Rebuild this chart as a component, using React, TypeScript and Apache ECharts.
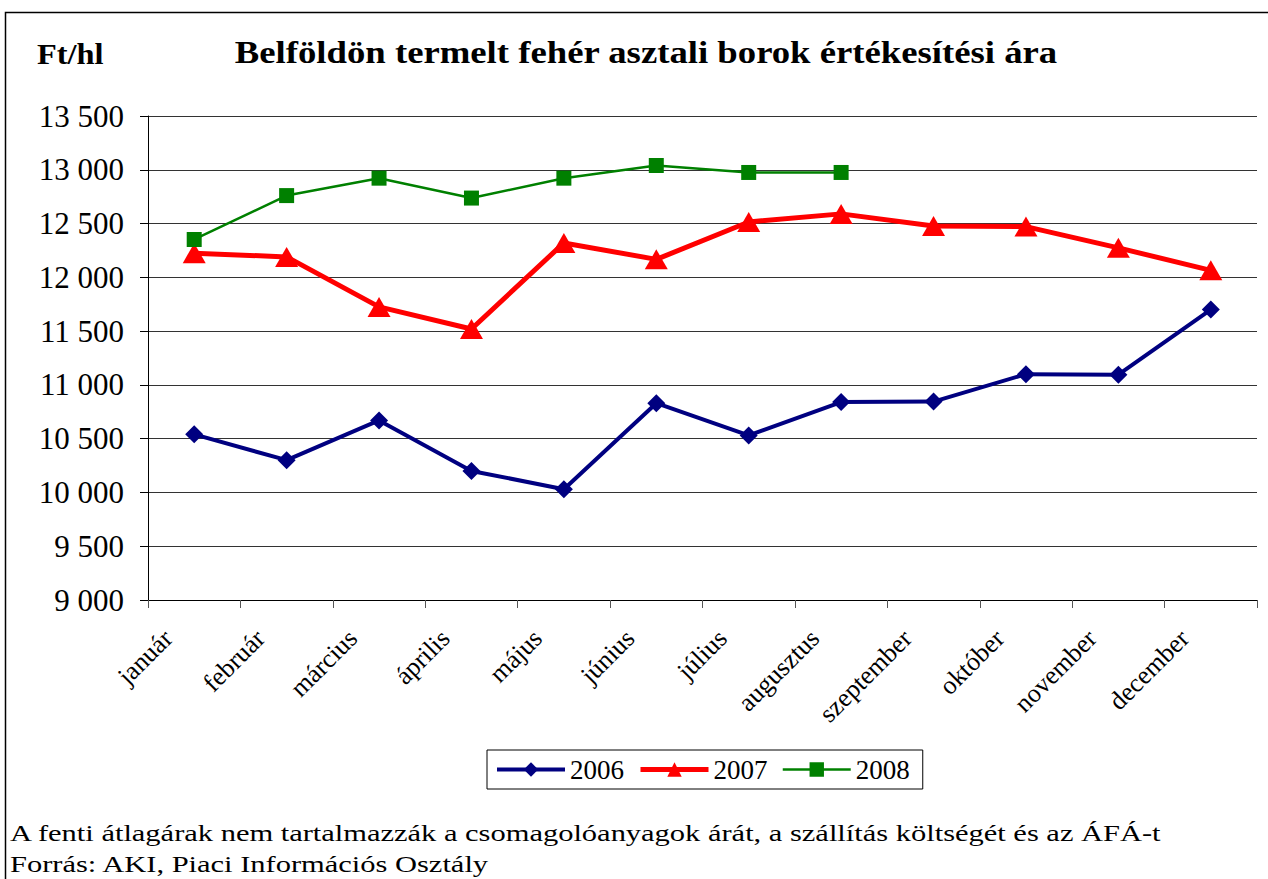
import React, { useEffect, useRef } from "react";
import * as echarts from "echarts";

const months = [
  "január", "február", "március", "április", "május", "június",
  "július", "augusztus", "szeptember", "október", "november", "december",
];
const values2006 = [10540, 10300, 10670, 10200, 10030, 10830, 10530, 10840, 10845, 11100, 11095, 11700];
const values2007 = [12225, 12190, 11725, 11520, 12320, 12167, 12515, 12590, 12478, 12472, 12274, 12065];
const values2008 = [12352, 12760, 12922, 12737, 12922, 13040, 12975, 12975];
const yTicks = { min: 9000, max: 13500, interval: 500 };

const titleText = "Belföldön termelt fehér asztali borok értékesítési ára";
const unitText = "Ft/hl";
const note1 = "A fenti átlagárak nem tartalmazzák a csomagolóanyagok árát, a szállítás költségét és az ÁFÁ-t";
const note2 = "Forrás: AKI, Piaci Információs Osztály";

const SERIF = "'Liberation Serif', 'Times New Roman', serif";

function fmt(v: number): string {
  const s = String(Math.round(v));
  return s.replace(/\B(?=(\d{3})+(?!\d))/g, " ");
}

export default function App() {
  const ref = useRef<HTMLDivElement>(null);
  useEffect(() => {
    if (!ref.current) return;
    const chart = echarts.init(ref.current, null, { renderer: "svg" });
    chart.setOption({
      animation: false,
      backgroundColor: "#fff",
      textStyle: { fontFamily: SERIF },
      grid: { left: 148, top: 116, right: 11, bottom: 279, containLabel: false },
      legend: {
        left: 487,
        top: 750,
        orient: "horizontal",
        borderColor: "#000",
        borderWidth: 1,
        padding: [6, 13, 6, 8],
        itemGap: 14,
        itemWidth: 68,
        itemHeight: 18,
        textStyle: { fontFamily: SERIF, fontSize: 27, color: "#000" },
        data: [
          { name: "2006", lineStyle: { width: 4, color: "#000080" } },
          { name: "2007", lineStyle: { width: 5, color: "#FF0000" } },
          { name: "2008", lineStyle: { width: 2.5, color: "#008000" } },
        ],
      },
      xAxis: {
        type: "category",
        data: months,
        boundaryGap: true,
        axisLine: { lineStyle: { color: "#000", width: 1 } },
        axisTick: { show: true, length: 8, alignWithLabel: false, lineStyle: { color: "#555" } },
        axisLabel: {
          interval: 0,
          rotate: 45,
          fontSize: 26,
          fontFamily: SERIF,
          color: "#000",
          margin: 8,
          padding: [0, 37, 0, 0],
        },
      },
      yAxis: {
        type: "value",
        min: yTicks.min,
        max: yTicks.max,
        interval: yTicks.interval,
        axisLine: { show: true, lineStyle: { color: "#000", width: 1 } },
        axisTick: { show: true, length: 8, lineStyle: { color: "#000" } },
        axisLabel: {
          fontSize: 31,
          fontFamily: SERIF,
          color: "#000",
          margin: 24,
          formatter: (v: number) => fmt(v),
        },
        splitLine: { show: true, lineStyle: { color: "#333", width: 1 } },
      },
      series: [
        {
          name: "2006",
          type: "line",
          data: values2006,
          symbol: "diamond",
          symbolSize: 18,
          lineStyle: { color: "#000080", width: 4 },
          itemStyle: { color: "#000080" },
          z: 3,
        },
        {
          name: "2007",
          type: "line",
          data: values2007,
          symbol: "triangle",
          symbolSize: [23, 20],
          lineStyle: { color: "#FF0000", width: 5 },
          itemStyle: { color: "#FF0000" },
          z: 4,
        },
        {
          name: "2008",
          type: "line",
          data: values2008,
          symbol: "rect",
          symbolSize: 15,
          lineStyle: { color: "#008000", width: 2.5 },
          itemStyle: { color: "#008000" },
          z: 5,
        },
      ],
      graphic: [
        {
          type: "rect",
          shape: { x: 5.5, y: 12.5, width: 1400, height: 1000 },
          style: { fill: "none", stroke: "#000", lineWidth: 1.5 },
          silent: true,
        },
        {
          type: "text",
          x: 646,
          y: 53,
          scaleX: 1.185,
          style: {
            text: titleText,
            font: `bold 31px ${SERIF}`,
            fill: "#000",
            textAlign: "center",
            textVerticalAlign: "middle",
          },
        },
        {
          type: "text",
          x: 37,
          y: 54,
          scaleX: 1.08,
          style: {
            text: unitText,
            font: `bold 30px ${SERIF}`,
            fill: "#000",
            textAlign: "left",
            textVerticalAlign: "middle",
          },
        },
        {
          type: "text",
          x: 10,
          y: 833,
          scaleX: 1.27,
          style: {
            text: note1,
            font: `24px ${SERIF}`,
            fill: "#000",
            textAlign: "left",
            textVerticalAlign: "middle",
          },
        },
        {
          type: "text",
          x: 10,
          y: 864,
          scaleX: 1.27,
          style: {
            text: note2,
            font: `24px ${SERIF}`,
            fill: "#000",
            textAlign: "left",
            textVerticalAlign: "middle",
          },
        },
      ],
    });
    return () => chart.dispose();
  }, []);
  return (
    <div
      ref={ref}
      style={{ position: "absolute", left: 0, top: 0, width: 1268, height: 879 }}
    />
  );
}
